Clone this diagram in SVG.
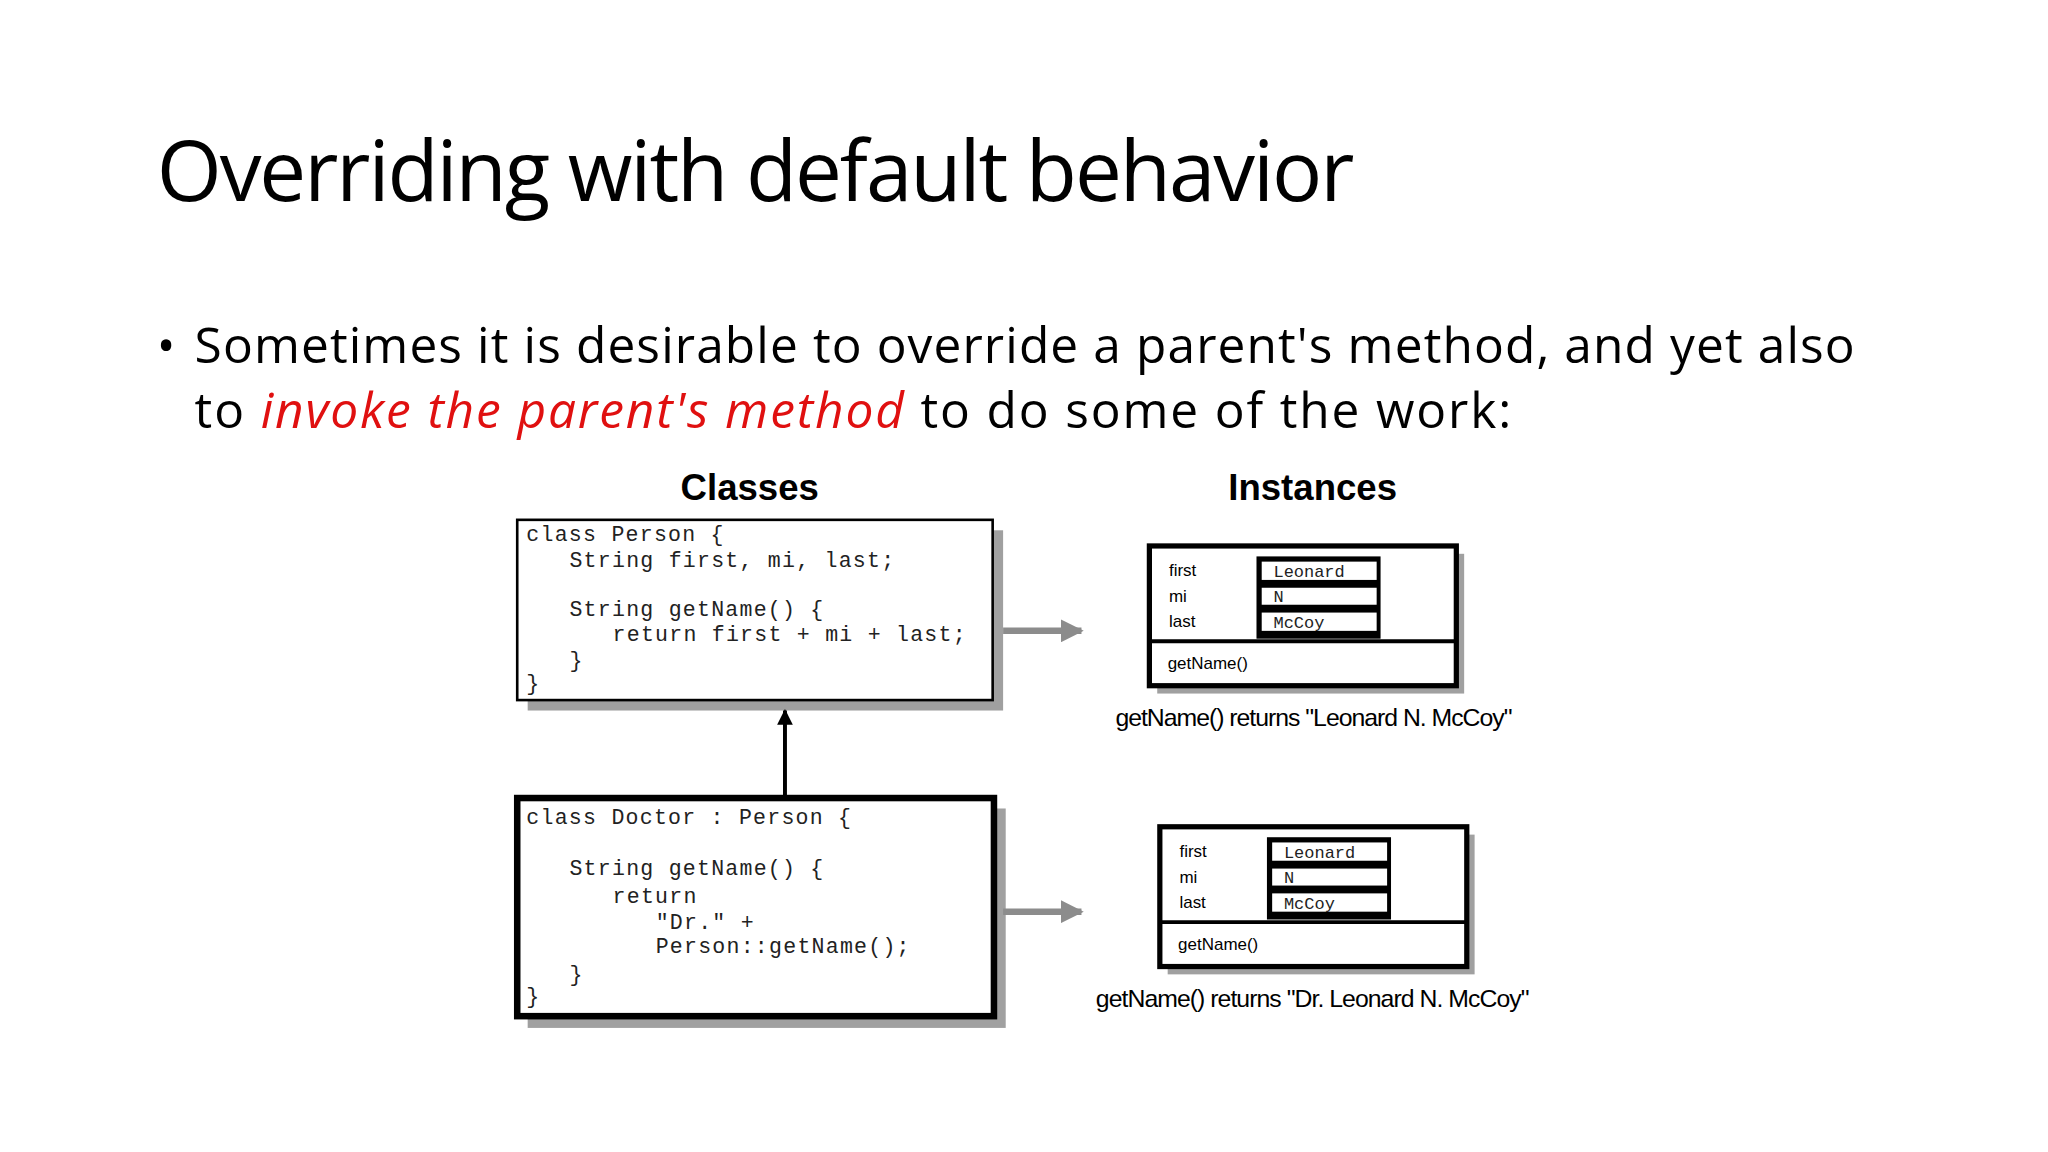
<svg xmlns="http://www.w3.org/2000/svg" width="2048" height="1152" viewBox="0 0 2048 1152">
<defs>
<style>
.t{font-family:"Open Sans","Noto Sans",sans-serif;fill:#000}
.code{font-family:"Liberation Mono",monospace;font-size:16.5px;letter-spacing:0.95px;fill:#222}
.lbl{font-family:"Liberation Sans",sans-serif;font-size:13px;fill:#000}
.val{font-family:"Liberation Mono",monospace;font-size:13px;fill:#222}
.hd{font-family:"Liberation Sans",sans-serif;font-size:28px;font-weight:bold;text-anchor:middle}
.cap{font-family:"Liberation Sans",sans-serif;font-size:19px;text-anchor:middle}
.shadow{fill:#a0a0a0}
</style>
<marker id="ab" viewBox="0 0 10 10" refX="9" refY="5" markerWidth="4" markerHeight="6" orient="auto" markerUnits="strokeWidth"><path d="M0,0L10,5L0,10z" fill="#000"/></marker>
<marker id="ag" viewBox="0 0 10 10" refX="9" refY="5" markerWidth="3.5" markerHeight="3.5" orient="auto" markerUnits="strokeWidth"><path d="M0,0L10,5L0,10z" fill="#8c8c8c"/></marker>
</defs>
<rect width="2048" height="1152" fill="#fff"/>
<g transform="scale(1.30612)">
<text class="t" x="120" y="154" font-size="64" textLength="917">Overriding with default behavior</text>
<text class="t" x="120" y="278" font-size="38">•</text>
<text class="t" x="149" y="278" font-size="38" textLength="1271">Sometimes it is desirable to override a parent's method, and yet also</text>
<text class="t" x="149" y="328" font-size="38" textLength="1008">to <tspan fill="#e01010" font-style="italic">invoke the parent's method</tspan> to do some of the work:</text>
<text class="hd" x="574" y="383">Classes</text>
<text class="hd" x="1005" y="383">Instances</text>
<g id="person">
<rect class="shadow" x="404" y="406" width="364" height="138"/>
<rect x="396" y="398" width="364" height="138" fill="#fff" stroke="#000" stroke-width="2"/>
<text class="code" x="403" y="414">class Person {</text>
<text class="code" x="436" y="434">String first, mi, last;</text>
<text class="code" x="436" y="472">String getName() {</text>
<text class="code" x="469" y="491">return first + mi + last;</text>
<text class="code" x="436" y="511">}</text>
<text class="code" x="403" y="528">}</text>
</g>
<g id="doctor">
<rect class="shadow" x="404" y="619" width="366" height="168"/>
<rect x="396" y="611" width="365" height="167" fill="#fff" stroke="#000" stroke-width="5"/>
<text class="code" x="403" y="631">class Doctor : Person {</text>
<text class="code" x="436" y="670">String getName() {</text>
<text class="code" x="469" y="691">return</text>
<text class="code" x="502" y="711">"Dr." +</text>
<text class="code" x="502" y="730">Person::getName();</text>
<text class="code" x="436" y="751">}</text>
<text class="code" x="403" y="768">}</text>
</g>
<g id="inst1">
<rect class="shadow" x="886" y="424" width="235" height="107"/>
<rect x="880" y="418" width="235" height="107" fill="#fff" stroke="#000" stroke-width="4"/>
<line x1="880" y1="491" x2="1115" y2="491" stroke="#000" stroke-width="3"/>
<rect x="962" y="426" width="95" height="63" fill="#000"/>
<rect x="966" y="430" width="88" height="14" fill="#fff"/>
<rect x="966" y="450" width="88" height="13" fill="#fff"/>
<rect x="966" y="469" width="88" height="14" fill="#fff"/>
<text class="lbl" x="895" y="441">first</text>
<text class="lbl" x="895" y="461">mi</text>
<text class="lbl" x="895" y="480">last</text>
<text class="val" x="975" y="442">Leonard</text>
<text class="val" x="975" y="461">N</text>
<text class="val" x="975" y="481">McCoy</text>
<text class="lbl" x="894" y="512">getName()</text>
<text class="cap" x="1006" y="556" textLength="304">getName() returns "Leonard N. McCoy"</text>
</g>
<g id="inst2">
<rect class="shadow" x="894" y="639" width="235" height="107"/>
<rect x="888" y="633" width="235" height="107" fill="#fff" stroke="#000" stroke-width="4"/>
<line x1="888" y1="706" x2="1123" y2="706" stroke="#000" stroke-width="3"/>
<rect x="970" y="641" width="95" height="63" fill="#000"/>
<rect x="974" y="645" width="88" height="14" fill="#fff"/>
<rect x="974" y="665" width="88" height="13" fill="#fff"/>
<rect x="974" y="684" width="88" height="14" fill="#fff"/>
<text class="lbl" x="903" y="656">first</text>
<text class="lbl" x="903" y="676">mi</text>
<text class="lbl" x="903" y="695">last</text>
<text class="val" x="983" y="657">Leonard</text>
<text class="val" x="983" y="676">N</text>
<text class="val" x="983" y="696">McCoy</text>
<text class="lbl" x="902" y="727">getName()</text>
<text class="cap" x="1005" y="771" textLength="332">getName() returns "Dr. Leonard N. McCoy"</text>
</g>
<g id="connectors">
<line x1="601" y1="609" x2="601" y2="544" stroke="#000" stroke-width="3" marker-end="url(#ab)"/>
<line x1="768" y1="483" x2="828" y2="483" stroke="#8c8c8c" stroke-width="5" marker-end="url(#ag)"/>
<line x1="768" y1="698" x2="828" y2="698" stroke="#8c8c8c" stroke-width="5" marker-end="url(#ag)"/>
</g>
</g>
</svg>
